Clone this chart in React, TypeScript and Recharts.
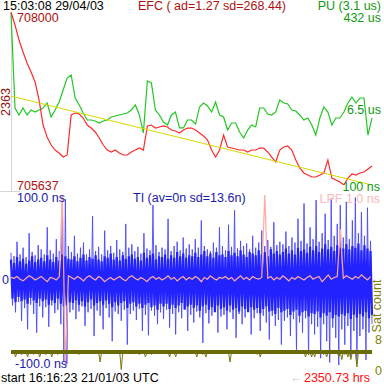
import React from 'react';
import { ComposedChart, Line, XAxis, YAxis, ReferenceLine } from 'recharts';

// ---- Top panel: EFC (frequency counter) and PU (log scale, us) ----
const efcValues = [
  708000, 707822, 707618, 707454, 707303, 707180, 707044, 706798, 706456, 706293,
  706183, 706115, 706074, 706019, 706047, 706593, 706620, 706607, 706552, 706456,
  706415, 706361, 706279, 706183, 706115, 706088, 706115, 706074, 706047, 706047,
  706088, 706115, 706142, 706115, 706443, 706456, 706415, 706429, 706443, 706429,
  706388, 706374, 706347, 706388, 706415, 706415, 706388, 706347, 706306, 706251,
  706115, 706019, 706115, 706320, 706156, 706142, 706129, 706115, 706115, 706088,
  706115, 706115, 706142, 706142, 706088, 706019, 705951, 706115, 706156, 706170,
  706115, 705978, 705869, 705801, 705773, 705746, 705746, 705773, 705801, 705978,
  705732, 705705, 705678, 705637, 705732, 705787, 705773, 705801, 705814, 705855,
  705896,
];
const puValues = [
  411, 4.15, 2.96, 4.15, 2.96, 3.77, 3.42, 3.77, 4.15, 5.28,
  2.69, 3.77, 5.55, 9.9, 17.7, 20.5, 6.73, 4.8, 3.26, 2.32,
  2.32, 2.21, 2.01, 2.21, 2.32, 2.69, 2.82, 2.96, 3.1, 3.26,
  3.77, 4.8, 2.96, 1.24, 15.3, 13.9, 3.77, 2.96, 2.11, 1.82,
  2.96, 3.42, 1.58, 1.58, 2.32, 2.32, 1.91, 4.36, 5.28, 4.57,
  3.42, 5.55, 2.96, 2.69, 1.43, 2.01, 2.01, 1.3, 0.97, 1.43,
  1.82, 1.66, 4.15, 4.15, 3.1, 2.96, 3.42, 6.11, 5.28, 5.04,
  3.77, 3.59, 2.96, 2.32, 2.56, 1.82, 1.12, 2.56, 4.36, 3.42,
  1.82, 2.56, 2.56, 3.42, 5.28, 7.06, 5.28, 6.73, 6.73, 1.12,
  2.56,
];
const efcMin = 705637;
const efcMax = 708000;
const trendStart = 706852;
const trendEnd = 705637;
const puMin = 0.1;
const puMax = 432;

// ---- Bottom panel: TI (ns) ----
// extremes (spikes) per column
const tiHigh = [
  32, 28, 45, 30, 38, 27, 55, 33, 29, 41,
  36, 30, 62, 35, 31, 48, 34, 98, 95, 40,
  33, 52, 31, 38, 44, 30, 36, 75, 34, 39,
  30, 58, 35, 40, 32, 47, 36, 33, 66, 38,
  42, 34, 39, 31, 55, 37, 35, 88, 41, 33,
  38, 36, 72, 34, 40, 45, 35, 50, 37, 42,
  36, 48, 38, 70, 40, 36, 34, 44, 38, 62,
  40, 35, 65, 39, 82, 37, 46, 40, 43, 36,
  52, 38, 44, 58, 40, 47, 39, 68, 41, 45,
  42, 57, 40, 50, 44, 72, 46, 90, 43, 62,
  48, 94, 45, 55, 78, 47, 96, 52, 66, 88,
  50, 92, 48, 70, 97, 55, 80, 52, 85, 46,
];
const tiLow = [
  -30, -38, -26, -48, -33, -58, -29, -40, -62, -31,
  -44, -32, -55, -30, -39, -35, -52, -96, -99, -38,
  -35, -46, -37, -31, -54, -38, -34, -66, -36, -42,
  -58, -33, -44, -72, -37, -40, -48, -35, -76, -40,
  -36, -47, -34, -60, -41, -65, -36, -42, -52, -38,
  -46, -35, -56, -40, -64, -38, -45, -34, -60, -41,
  -50, -37, -44, -74, -39, -51, -42, -36, -62, -43,
  -41, -58, -38, -46, -68, -40, -52, -44, -37, -64,
  -45, -39, -60, -42, -50, -70, -42, -54, -47, -76,
  -48, -44, -66, -46, -82, -50, -62, -45, -88, -52,
  -64, -55, -92, -52, -72, -97, -56, -68, -100, -58,
  -76, -54, -90, -60, -99, -66, -58, -94, -62, -52,
];
// dense core of the noise per column
const coreHigh = [
  24, 20, 27, 22, 25, 19, 23, 28, 21, 24,
  26, 22, 29, 24, 21, 27, 23, 30, 28, 25,
  24, 28, 22, 26, 30, 23, 27, 25, 29, 24,
  22, 28, 26, 31, 24, 27, 23, 29, 25, 28,
  30, 25, 27, 23, 32, 26, 29, 31, 24, 28,
  27, 30, 25, 29, 26, 33, 28, 31, 26, 29,
  28, 32, 27, 30, 34, 28, 31, 26, 33, 29,
  30, 27, 34, 29, 32, 28, 35, 30, 27, 33,
  31, 29, 35, 30, 33, 28, 36, 31, 34, 30,
  33, 37, 31, 35, 30, 38, 34, 36, 32, 39,
  35, 40, 33, 37, 42, 36, 39, 34, 41, 38,
  37, 42, 36, 40, 38, 43, 35, 41, 37, 34,
];
const coreLow = [
  -22, -26, -20, -25, -23, -28, -21, -24, -27, -22,
  -25, -23, -29, -24, -27, -22, -28, -31, -30, -26,
  -27, -24, -29, -25, -31, -26, -23, -30, -27, -25,
  -29, -24, -28, -32, -26, -30, -27, -25, -33, -28,
  -26, -31, -28, -33, -29, -27, -32, -30, -35, -28,
  -31, -28, -34, -29, -33, -30, -27, -35, -31, -29,
  -33, -30, -36, -31, -29, -35, -32, -38, -30, -34,
  -32, -36, -30, -35, -33, -37, -31, -34, -38, -32,
  -35, -33, -39, -34, -31, -37, -36, -40, -33, -38,
  -36, -34, -41, -37, -35, -42, -38, -36, -43, -39,
  -40, -37, -44, -39, -42, -38, -45, -41, -43, -40,
  -42, -39, -46, -41, -44, -40, -43, -38, -45, -41,
];
const lpfValues = [
  3, 2, 4, 1, -1, 2, 5, 3, 0, 2,
  4, 1, -2, 3, 2, 0, 4, 100, -100, 5,
  3, 1, 4, 2, -1, 3, 5, 2, 0, 4,
  2, -2, 1, 3, 0, 2, 4, 1, -1, 3,
  5, 2, 0, 3, 1, -2, 2, 4, 1, 3,
  0, 2, 5, 1, 3, -1, 2, 4, 0, 3,
  1, 4, 2, -2, 3, 1, 5, 2, 0, 3,
  2, 4, 1, 3, -1, 2, 5, 1, 3, 0,
  4, 2, 1, 3, 100, 2, 4, 0, 3, 1,
  5, 2, -1, 3, 1, 4, 2, 0, 3, 5,
  1, 3, 4, -2, 2, 6, 1, 3, 4, 60,
  2, 5, 3, 1, 4, 2, 6, 3, 0, 4,
];
const tiRange = 100;

// ---- Satellite count strip ----
const satFull = 8;
const satCount = [
  8, 6, 8, 7, 8, 6, 8, 7, 8, 6,
  8, 7, 8, 6, 8, 7, 8, 8, 8, 8,
  8, 8, 7, 8, 8, 8, 8, 8, 8, 4,
  8, 8, 8, 8, 8, 8, 1, 8, 8, 8,
  8, 8, 7, 8, 6, 8, 7, 8, 8, 8,
  8, 8, 6, 8, 6, 8, 8, 8, 8, 8,
  8, 6, 8, 7, 6, 8, 8, 8, 8, 8,
  8, 8, 4, 8, 8, 8, 8, 8, 8, 8,
  8, 7, 6, 8, 8, 8, 8, 8, 8, 8,
  8, 8, 8, 8, 8, 8, 8, 6, 7, 6,
  6, 8, 8, 7, 6, 7, 8, 8, 6, 5,
  7, 6, 5, 8, 2, 8, 8, 8, 8, 8,
];

const topData = efcValues.map((v, i) => ({
  i,
  efc: v,
  pu: puValues[i],
  trend: i === 0 ? trendStart : i === efcValues.length - 1 ? trendEnd : null,
}));

const tiData: any[] = [];
tiHigh.forEach((h, k) => {
  tiData.push({ r: 2 * k, ti: h, core: coreHigh[k], lpf: lpfValues[k] });
  tiData.push({ r: 2 * k + 1, ti: tiLow[k], core: coreLow[k], lpf: null });
});

const satData: any[] = [];
satCount.forEach((s, k) => {
  satData.push({ r: 2 * k, sat: satFull });
  satData.push({ r: 2 * k + 1, sat: s });
});

const FONT = '"Liberation Sans", Arial, sans-serif';
const W = 384;

function Label(props: { left?: number; right?: number; cy: number; color: string; text: string; size?: number }) {
  const size = props.size ?? 12.5;
  const style: React.CSSProperties = {
    position: 'absolute',
    top: props.cy - size / 2,
    fontFamily: FONT,
    fontSize: size,
    lineHeight: `${size}px`,
    color: props.color,
    whiteSpace: 'nowrap',
  };
  if (props.left !== undefined) style.left = props.left;
  else style.right = W - (props.right ?? W);
  return <div style={style}>{props.text}</div>;
}

function VLabel(props: { cx: number; cy: number; color: string; text: string; size?: number }) {
  const size = props.size ?? 12.5;
  return (
    <div
      style={{
        position: 'absolute',
        left: props.cx,
        top: props.cy,
        transform: 'translate(-50%, -50%) rotate(-90deg)',
        fontFamily: FONT,
        fontSize: size,
        lineHeight: `${size}px`,
        color: props.color,
        whiteSpace: 'nowrap',
      }}
    >
      {props.text}
    </div>
  );
}

const layer: React.CSSProperties = { position: 'absolute', left: 0, top: 0 };

export default function App() {
  return (
    <div style={{ position: 'absolute', left: 0, top: 0, width: W, height: W, background: '#fff', overflow: 'hidden' }}>
      {/* light gray frame marks */}
      <div style={{ position: 'absolute', left: 11, top: 12, width: 1, height: 180, background: '#d6d6d6' }} />
      <div style={{ position: 'absolute', left: 0, top: 191, width: 20, height: 1, background: '#d6d6d6' }} />

      {/* bottom TI panel */}
      <div style={layer}>
        <ComposedChart width={W} height={W} data={tiData} margin={{ top: 195, right: 12, bottom: 19, left: 11 }}>
          <XAxis type="number" dataKey="r" domain={[0, tiData.length - 1]} hide />
          <YAxis type="number" domain={[-tiRange, tiRange]} hide width={0} allowDataOverflow />
          <Line dataKey="ti" stroke="#4a4aff" strokeWidth={0.9} dot={false} isAnimationActive={false} />
          <Line dataKey="core" stroke="#2222ff" strokeWidth={2.2} dot={false} isAnimationActive={false} />
          <Line dataKey="lpf" stroke="#ffaaa0" strokeWidth={1.2} dot={false} connectNulls isAnimationActive={false} />
        </ComposedChart>
      </div>

      {/* sat count strip */}
      <div style={layer}>
        <ComposedChart width={W} height={W} data={satData} margin={{ top: 352, right: 12, bottom: 12, left: 11 }}>
          <XAxis type="number" dataKey="r" domain={[0, satData.length - 1]} hide />
          <YAxis type="number" domain={[0, satFull]} hide width={0} allowDataOverflow />
          <Line dataKey="sat" stroke="#7a7a10" strokeWidth={1} dot={false} isAnimationActive={false} />
          <ReferenceLine y={satFull} stroke="#6b6b08" strokeWidth={4} />
        </ComposedChart>
      </div>

      {/* top panel */}
      <div style={layer}>
        <ComposedChart width={W} height={200} data={topData} margin={{ top: 12, right: 12, bottom: 15, left: 11 }}>
          <XAxis type="number" dataKey="i" domain={[0, efcValues.length - 1]} hide />
          <YAxis yAxisId="efc" type="number" domain={[efcMin, efcMax]} hide width={0} allowDataOverflow />
          <YAxis yAxisId="pu" type="number" scale="log" domain={[puMin, puMax]} hide width={0} allowDataOverflow />
          <Line yAxisId="pu" dataKey="pu" stroke="#22c822" strokeWidth={1.2} dot={false} isAnimationActive={false} />
          <Line yAxisId="efc" dataKey="efc" stroke="#ff2a2a" strokeWidth={1.2} dot={false} isAnimationActive={false} />
          <Line yAxisId="efc" dataKey="trend" stroke="#d8d800" strokeWidth={1} dot={false} connectNulls isAnimationActive={false} />
        </ComposedChart>
      </div>

      {/* texts */}
      <Label left={3} cy={6.5} color="#000" text="15:03:08 29/04/03" />
      <Label left={138} cy={6.5} color="#b01010" text="EFC ( ad=1.27 sd=268.44)" />
      <Label right={381} cy={6.5} color="#119911" text="PU (3.1 us)" />
      <Label right={381} cy={18.5} color="#119911" text="432 us" />
      <Label left={17} cy={18} color="#b01010" text="708000" />
      <VLabel cx={6} cy={102} color="#901010" text="2363" />
      <Label right={381} cy={110} color="#119911" text="6.5 us" />
      <Label left={17} cy={186} color="#b01010" text="705637" />
      <Label right={380} cy={187} color="#119911" text="100 ns" />
      <Label left={17} cy={198} color="#1a1aa8" text="100.0 ns" />
      <Label left={133} cy={198} color="#1a1aa8" text="TI (av=0n sd=13.6n)" />
      <Label right={380} cy={199} color="#ffb8b8" text="LPF 1.0 ns" />
      <Label left={2} cy={280} color="#1a1aa8" text="0" />
      <VLabel cx={377} cy={306} color="#808000" text="Sat count" />
      <Label left={375} cy={340} color="#808000" text="8" />
      <Label left={375} cy={371} color="#808000" text="0" />
      <Label left={15} cy={364} color="#1a1aa8" text="-100.0 ns" />
      <Label left={1} cy={378} color="#000" text="start 16:16:23 21/01/03 UTC" />
      <Label left={290} cy={378} color="#cccccc" text="←" />
      <Label right={370} cy={378} color="#ff1010" text="2350.73 hrs" />
    </div>
  );
}
